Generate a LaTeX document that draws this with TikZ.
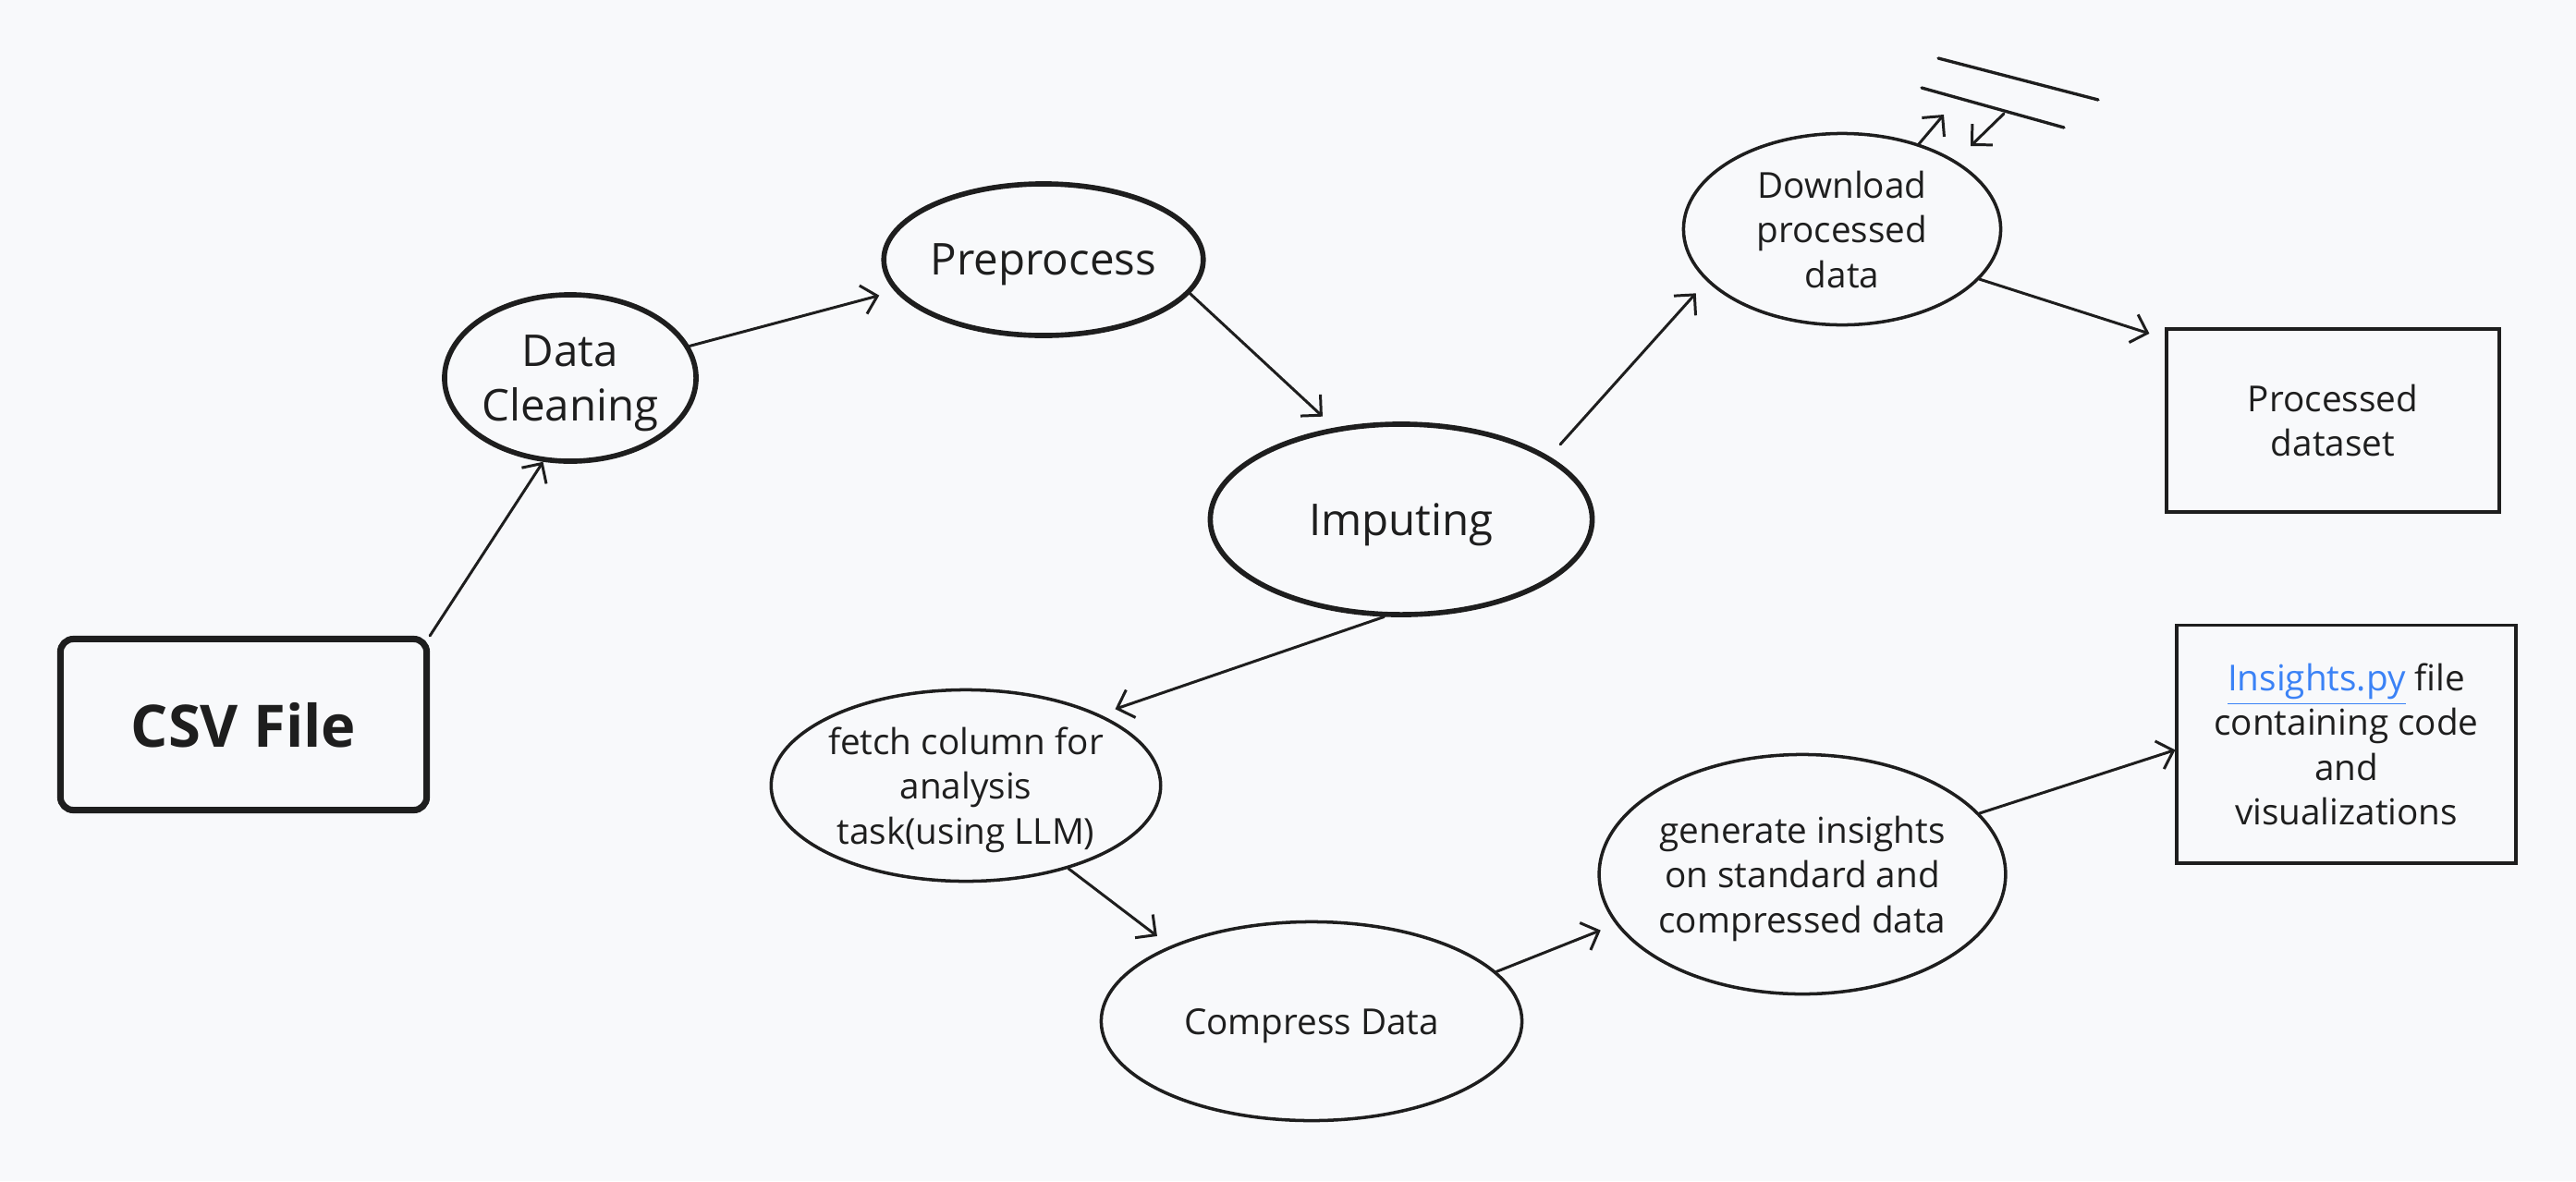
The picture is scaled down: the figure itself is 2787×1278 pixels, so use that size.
\documentclass[tikz,border=0pt]{standalone}
\usepackage{fontspec}
\setmainfont{Open Sans}
\usetikzlibrary{shapes.geometric,arrows.meta}
\definecolor{bgcol}{HTML}{F8F9FB}
\definecolor{ink}{HTML}{1E1E1E}
\definecolor{linkblue}{HTML}{3B82F6}

\begin{document}
\begin{tikzpicture}[x=0.01cm,y=-0.01cm,
    every node/.style={text=ink,align=center,text depth=0pt},
    oval/.style={draw=ink,ellipse,inner sep=0pt},
    box/.style={draw=ink,rectangle,inner sep=0pt},
    bigtxt/.style={font=\fontsize{13.5}{16.7}\selectfont},
    smalltxt/.style={font=\fontsize{11}{13.8}\selectfont},
    arr/.style={draw=ink,line width=0.85pt,line cap=round,
      -{Straight Barb[length=4.5pt,width=9pt,line width=0.85pt]}}]

  \fill[bgcol] (0,0) rectangle (2787,1278);
  \useasboundingbox (0,0) rectangle (2787,1278);

  \node[box,line width=2pt,rounded corners=4pt,minimum width=3.96cm,minimum height=1.85cm,
    font=\fontsize{18}{22}\selectfont\bfseries] (csv) at (263.5,784) {CSV File};

  \node[oval,bigtxt,line width=1.6pt,minimum width=2.72cm,minimum height=1.8cm] (clean) at (617,409) {Data\\Cleaning};
  \node[oval,bigtxt,line width=1.6pt,minimum width=3.38cm,minimum height=1.64cm] (prep) at (1129,281) {Preprocess};
  \node[oval,bigtxt,line width=1.6pt,minimum width=4.13cm,minimum height=2.06cm] (imp) at (1516,562) {Imputing};

  \node[oval,smalltxt,line width=1pt,minimum width=3.43cm,minimum height=2.07cm] (dl) at (1993,248) {Download\\processed\\data};
  \node[box,smalltxt,line width=1pt,minimum width=3.6cm,minimum height=1.98cm] (pds) at (2524,455) {Processed\\dataset};

  \node[oval,smalltxt,line width=1pt,minimum width=4.17cm,minimum height=2.07cm] (fetch) at (1045,850) {fetch column for\\analysis\\task(using LLM)};
  \node[oval,smalltxt,line width=1pt,minimum width=4.55cm,minimum height=2.15cm] (comp) at (1419,1105) {Compress Data};
  \node[oval,smalltxt,line width=1pt,minimum width=4.19cm,minimum height=2.59cm] (gen) at (1950,946) {generate insights\\on standard and\\compressed data};
  \node[box,smalltxt,line width=1.1pt,minimum width=3.66cm,minimum height=2.57cm] (ins) at (2538.5,805)
    {{\color{linkblue}\underline{Insights.py}} file\\containing code\\and\\visualizations};

  \coordinate (top1) at (2097,63);
  \coordinate (top2) at (2270,108);
  \coordinate (low1) at (2079,95);
  \coordinate (low2) at (2233,138);
  \coordinate (save) at (2103,124);
  \coordinate (load) at (2168,123);
  \coordinate (back) at (2132,158);

  \draw[ink,line width=0.95pt,line cap=round] (top1) -- (top2);
  \draw[ink,line width=0.95pt,line cap=round] (low1) -- (low2);

  \path[arr] (csv.north east) -- (clean.252);
  \path[arr,shorten >=5pt] (clean.15) -- (prep.192);
  \path[arr,shorten >=5pt] (prep.-13) -- (imp.126);
  \path[arr,shorten <=5pt,shorten >=5pt] (imp.23) -- (dl.201);
  \path[arr,shorten >=5pt] (dl.-20) -- (pds.154);
  \path[arr] (dl.48) -- (save);
  \path[arr] (load) -- (back);
  \path[arr,shorten >=5pt] (imp.260) -- (fetch.28);
  \path[arr,shorten >=5pt] (fetch.-39) -- (comp.152);
  \path[arr,shorten >=5pt] (comp.15) -- (gen.195);
  \path[arr] (gen.19) -- (ins.182);
\end{tikzpicture}
\end{document}
